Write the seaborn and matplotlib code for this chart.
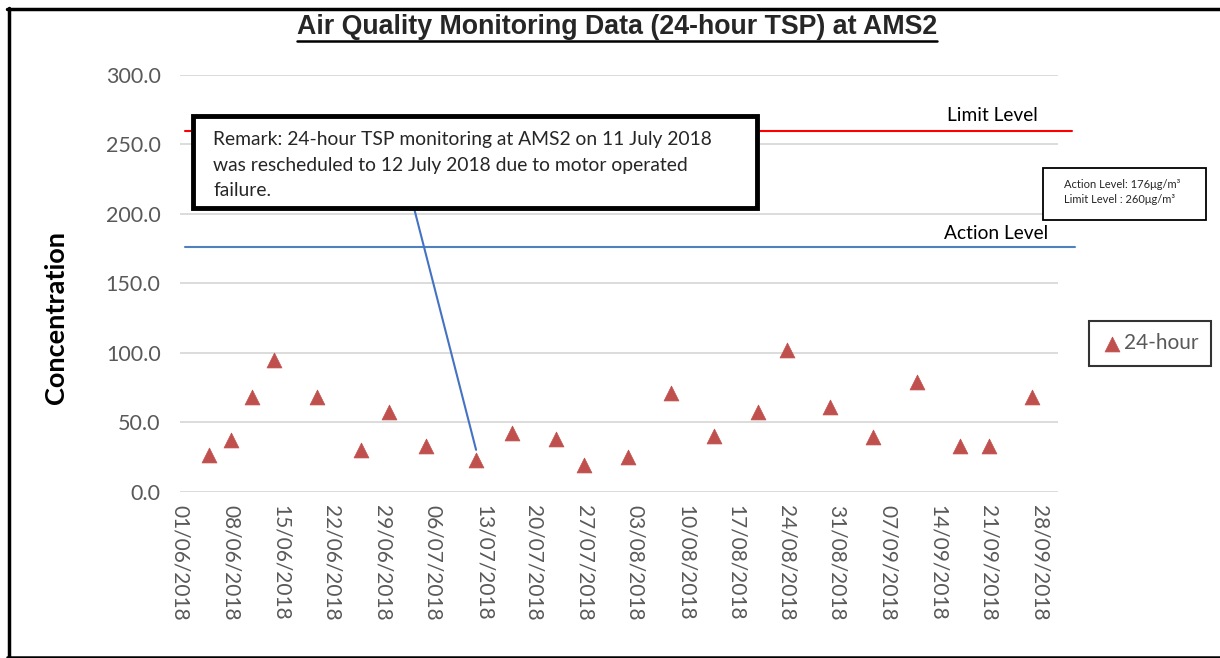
import pandas as pd
import numpy as np
import matplotlib
matplotlib.use("Agg")
import matplotlib.pyplot as plt
import matplotlib.dates as mdates
from matplotlib.patches import Rectangle
from matplotlib.lines import Line2D
import seaborn as sns

# data
dates = ["2018-06-05", "2018-06-08", "2018-06-11", "2018-06-14", "2018-06-20",
         "2018-06-26", "2018-06-30", "2018-07-05", "2018-07-12", "2018-07-17",
         "2018-07-23", "2018-07-27", "2018-08-02", "2018-08-08", "2018-08-14",
         "2018-08-20", "2018-08-24", "2018-08-30", "2018-09-05", "2018-09-11",
         "2018-09-17", "2018-09-21", "2018-09-27"]
tsp_24h = [26, 37, 68, 95, 68, 30, 57, 33, 23, 42, 38, 19, 25, 71, 40,
           57, 102, 61, 39, 79, 33, 33, 68]
action_level = 176
limit_level = 260
rescheduled = "2018-07-12"
tick_dates = pd.date_range("2018-06-01", "2018-09-28", freq="7D")

df = pd.DataFrame({"date": pd.to_datetime(dates), "value": tsp_24h})

sns.set_style("white")
plt.rcParams["font.family"] = ["Lato", "DejaVu Sans"]

W, H = 1220, 658
fig = plt.figure(figsize=(W / 100, H / 100), dpi=100)
ax = fig.add_axes([180 / W, 1 - 491.5 / H, 878 / W, 416.5 / H])

def fx(px):
    return px / W

def fy(py):
    return 1 - py / H

grey = "#595959"
ax.set_ylim(0, 300)
ax.set_xlim(pd.Timestamp("2018-06-01"), pd.Timestamp("2018-10-01") - pd.Timedelta(hours=10))
ax.set_yticks(np.arange(0, 301, 50))
ax.yaxis.set_major_formatter(matplotlib.ticker.FormatStrFormatter("%.1f"))
ax.grid(axis="y", color="#D9D9D9", lw=1.3)
ax.set_axisbelow(True)
sns.despine(ax=ax, left=True, bottom=True, top=True, right=True)

# level lines (spill a bit past the plot area like in the original)
ax.axhline(limit_level, xmin=0.006, xmax=1.016, color="#FF0000", lw=1.5, clip_on=False)
ax.axhline(action_level, xmin=0.006, xmax=1.019, color="#4F81BD", lw=1.5, clip_on=False)
ax.text(0.925, limit_level + 4.5, "Limit Level", transform=ax.get_yaxis_transform(),
        ha="center", va="bottom", fontsize=13.8, color="black")
ax.text(0.93, action_level + 4, "Action Level", transform=ax.get_yaxis_transform(),
        ha="center", va="bottom", fontsize=13.8, color="black")

sns.scatterplot(data=df, x="date", y="value", marker="^", s=115, color="#C0504D",
                edgecolor="#C0504D", linewidth=0.5, label="24-hour", ax=ax, zorder=3)

ax.xaxis.set_major_locator(matplotlib.ticker.FixedLocator(mdates.date2num(tick_dates)))
ax.xaxis.set_major_formatter(mdates.DateFormatter("%d/%m/%Y"))
ax.tick_params(axis="x", labelrotation=-90, labelsize=15, colors=grey, length=0, pad=10)
ax.tick_params(axis="y", labelsize=15.5, colors=grey, length=0, pad=14)
for lab in ax.get_xticklabels():
    lab.set_va("top")
    lab.set_ha("center")
ax.set_xlabel("")
ax.set_ylabel("Concentration", fontsize=19.5, fontweight="bold", color="black")
ax.yaxis.set_label_coords((68 - 180) / 878, (491.5 - 317) / 416.5)

leg = ax.legend(loc="center", bbox_to_anchor=(fx(1150), fy(343)), bbox_transform=fig.transFigure,
                frameon=True, fancybox=False, edgecolor="black", fontsize=15, handletextpad=0.1,
                handlelength=1.0, borderpad=0.6, labelcolor=grey)
leg.get_frame().set_linewidth(1.5)

# remark box and callout line
fig.patches.append(Rectangle((fx(193), fy(208)), 564 / W, 92 / H, transform=fig.transFigure,
                             fc="white", ec="black", lw=3.5, zorder=4))
fig.text(fx(213), fy(165), "Remark: 24-hour TSP monitoring at AMS2 on 11 July 2018\n"
         "was rescheduled to 12 July 2018 due to motor operated\nfailure.",
         ha="left", va="center", fontsize=13.9, linespacing=1.6, zorder=5)
resc_val = df.loc[df["date"] == pd.Timestamp(rescheduled), "value"].iloc[0]
ax.annotate("", xy=(pd.Timestamp(rescheduled), resc_val + 7), xycoords="data",
            xytext=(fx(414), fy(208)), textcoords="figure fraction",
            arrowprops=dict(arrowstyle="-", color="#4472C4", lw=1.5, shrinkA=0, shrinkB=0))

# small level note box
fig.patches.append(Rectangle((fx(1043), fy(220)), 163 / W, 52 / H, transform=fig.transFigure,
                             fc="white", ec="black", lw=1.3, zorder=4))
fig.text(fx(1064), fy(192), "Action Level: %dμg/m³\nLimit Level : %dμg/m³" % (action_level, limit_level),
         ha="left", va="center", fontsize=8, linespacing=1.35, zorder=5)

# title with underline
title = fig.text(fx(617), fy(27), "Air Quality Monitoring Data (24-hour TSP) at AMS2",
                 ha="center", va="center", fontsize=19.3, fontweight="bold", family="Liberation Sans")
fig.canvas.draw()
bb = title.get_window_extent()
fig.lines.append(Line2D([bb.x0 / W, bb.x1 / W], [fy(41), fy(41)], transform=fig.transFigure,
                        color="black", lw=1.8))

# outer frame
fig.lines.append(Line2D([fx(8.5), fx(8.5)], [fy(8), fy(657)], transform=fig.transFigure, color="black", lw=2.5))
fig.lines.append(Line2D([fx(7), 1], [fy(8.5), fy(8.5)], transform=fig.transFigure, color="black", lw=2.5))
fig.lines.append(Line2D([fx(7), 1], [fy(656.5), fy(656.5)], transform=fig.transFigure, color="black", lw=1.8))

fig.savefig("out.png", dpi=100)
